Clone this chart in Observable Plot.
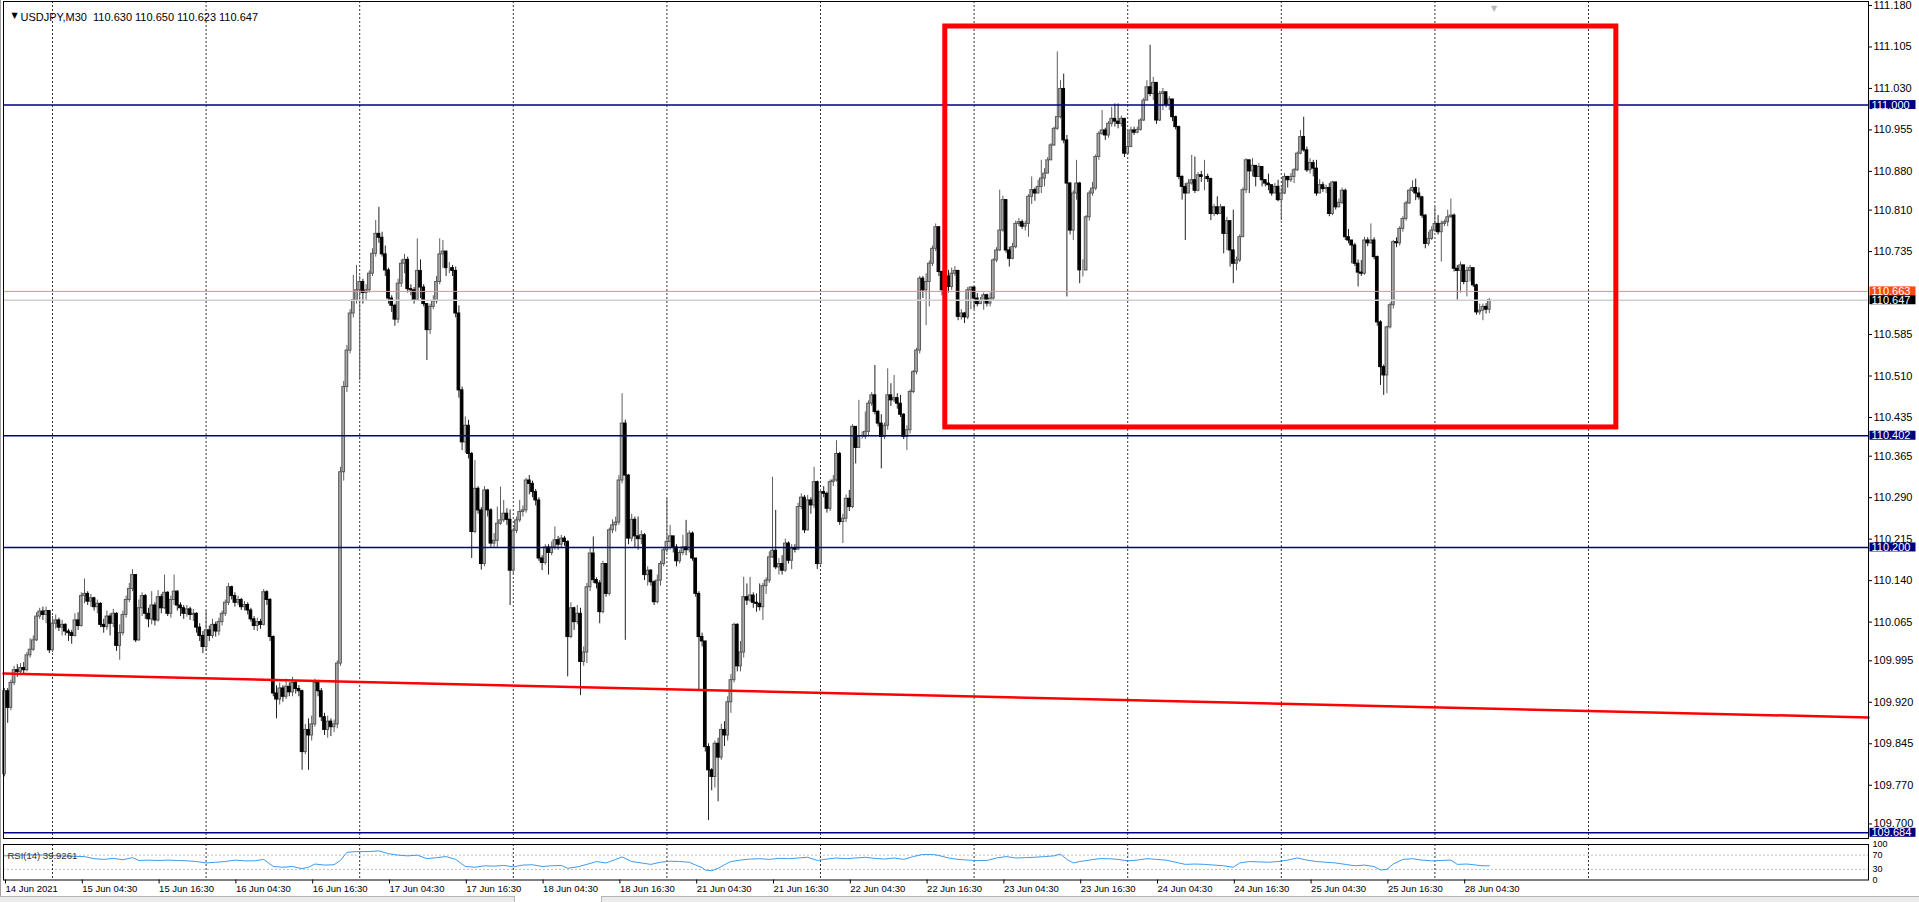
<!DOCTYPE html>
<html><head><meta charset="utf-8">
<script src="https://cdn.jsdelivr.net/npm/d3@7"></script>
<script src="https://cdn.jsdelivr.net/npm/@observablehq/plot@0.6"></script>
<style>
html,body{margin:0;padding:0;background:#fff;width:1919px;height:902px;overflow:hidden;font-family:"Liberation Sans",Arial,sans-serif;}
#wrap{position:relative;width:1919px;height:902px;background:#fff;}
#main{position:absolute;left:0;top:0;}
#rsi{position:absolute;left:0;top:840px;}
#tabs{position:absolute;left:0;top:896px;width:1919px;height:6px;background:#ececec;border-top:1px solid #b5b5b5;}
#tab1{position:absolute;left:514px;top:-1px;width:86px;height:6px;background:#fff;border:1px solid #b5b5b5;border-top:none;}
#edge{position:absolute;left:0;top:0;width:1px;height:896px;background:#a0a0a0;}
svg{overflow:visible;}
</style></head>
<body><div id="wrap"><div id="main"></div><div id="rsi"></div><div id="edge"></div><div id="tabs"><div id="tab1"></div></div></div>
<script>
// USDJPY M30, one candle per 30 minutes, bar 0 = 14 Jun 2021 16:30.
// Prices stored as thousandths above 109.000 (e.g. 1647 = 110.647).
const priceBase = 109;
const firstOpen = 790;
const closes = [
940,910,955,978,975,982,978,1005,1015,1032,
1075,1084,1078,1085,1014,1062,1068,1055,1060,1048,
1045,1040,1068,1058,1112,1116,1102,1108,1092,1098,
1060,1056,1075,1062,1080,1022,1045,1078,1105,1125,
1150,1032,1090,1112,1080,1070,1095,1068,1110,1090,
1118,1080,1105,1120,1095,1090,1080,1088,1078,1080,
1055,1040,1020,1050,1040,1060,1048,1065,1080,1100,
1128,1112,1100,1105,1092,1096,1086,1070,1058,1065,
1060,1119,1105,1038,936,925,945,930,948,938,
955,944,940,830,870,860,880,955,940,893,
870,885,875,880,990,1336,1490,1556,1623,1647,
1665,1680,1660,1665,1695,1731,1767,1760,1730,1701,
1650,1637,1612,1677,1713,1720,1667,1665,1647,1700,
1670,1640,1593,1635,1645,1680,1730,1735,1705,1705,
1700,1623,1484,1390,1420,1369,1228,1306,1267,1170,
1303,1267,1207,1212,1243,1249,1261,1250,1158,1230,
1249,1264,1267,1321,1315,1300,1285,1180,1172,1200,
1190,1200,1213,1205,1216,1210,1038,1090,1065,1080,
993,1010,1128,1189,1141,1135,1083,1170,1116,1231,
1240,1245,1321,1424,1330,1216,1250,1220,1215,1222,
1150,1158,1137,1101,1140,1170,1195,1210,1220,1200,
1175,1190,1200,1195,1225,1180,1116,1038,1030,839,
797,785,845,820,870,860,920,960,1060,985,
1010,1110,1104,1113,1100,1098,1092,1130,1140,1182,
1194,1164,1170,1158,1207,1176,1198,1196,1273,1290,
1231,1285,1276,1318,1170,1300,1297,1270,1318,1321,
1369,1246,1252,1288,1273,1418,1380,1400,1400,1409,
1460,1475,1445,1424,1400,1420,1475,1466,1470,1460,
1440,1400,1412,1481,1517,1556,1686,1665,1680,1713,
1740,1779,1698,1665,1690,1671,1695,1700,1617,1623,
1616,1665,1670,1650,1640,1646,1656,1641,1650,1719,
1737,1773,1828,1737,1722,1743,1785,1788,1780,1785,
1834,1846,1840,1852,1867,1876,1900,1927,1957,1978,
2029,1936,1858,1773,1840,1858,1701,1701,1797,1840,
1849,1906,1948,1954,1945,1966,1975,1970,1966,1975,
1912,1924,1954,1950,1955,1972,2008,2032,2020,2040,
1972,2020,2023,2000,2010,1978,1960,1870,1852,1840,
1858,1864,1845,1873,1870,1870,1866,1803,1815,1803,
1815,1767,1790,1737,1713,1719,1761,1846,1900,1880,
1890,1870,1888,1864,1858,1855,1840,1852,1828,1840,
1870,1864,1870,1882,1912,1942,1918,1882,1895,1885,
1840,1855,1848,1850,1803,1860,1815,1823,1845,1761,
1755,1746,1713,1697,1695,1755,1750,1755,1725,1607,
1526,1511,1598,1638,1752,1750,1776,1794,1822,1845,
1850,1840,1833,1800,1749,1758,1773,1785,1770,1785,
1788,1797,1800,1704,1700,1710,1680,1700,1705,1674,
1625,1628,1635,1630,1647];
const highs = [
945,945,960,985,988,990,992,1010,1035,1040,
1082,1090,1092,1092,1085,1075,1078,1072,1068,1062,
1052,1050,1080,1082,1118,1143,1120,1115,1110,1105,
1100,1070,1085,1080,1088,1082,1060,1085,1112,1135,
1160,1150,1105,1118,1115,1090,1120,1100,1122,1115,
1150,1120,1112,1150,1122,1100,1095,1095,1092,1088,
1082,1062,1048,1085,1058,1070,1065,1072,1085,1105,
1135,1130,1118,1112,1108,1102,1100,1090,1075,1072,
1070,1124,1122,1108,1040,950,955,950,962,955,
965,958,950,942,880,890,895,962,960,945,
900,895,890,888,995,1345,1500,1565,1630,1692,
1710,1690,1685,1675,1700,1740,1791,1815,1770,1745,
1705,1655,1640,1685,1720,1730,1725,1675,1670,1758,
1720,1675,1640,1640,1655,1690,1758,1755,1735,1715,
1710,1707,1637,1490,1436,1430,1372,1357,1310,1272,
1310,1305,1270,1225,1273,1309,1285,1270,1268,1235,
1255,1285,1275,1325,1330,1320,1305,1290,1185,1205,
1205,1210,1237,1220,1222,1220,1212,1100,1092,1095,
1090,1020,1135,1200,1219,1145,1140,1175,1170,1235,
1250,1255,1330,1478,1430,1332,1260,1255,1255,1230,
1225,1165,1160,1140,1150,1175,1200,1288,1240,1215,
1205,1195,1222,1249,1230,1228,1165,1120,1045,1030,
845,800,850,855,880,885,930,970,1063,1062,
1030,1146,1134,1146,1118,1116,1134,1135,1145,1192,
1327,1267,1180,1185,1215,1210,1205,1205,1280,1297,
1294,1294,1290,1345,1320,1305,1310,1300,1322,1330,
1393,1372,1260,1295,1303,1422,1412,1466,1409,1445,
1465,1480,1529,1448,1440,1425,1523,1496,1511,1478,
1475,1442,1420,1485,1520,1560,1690,1690,1695,1718,
1745,1785,1780,1700,1700,1701,1705,1708,1701,1630,
1625,1670,1671,1665,1659,1652,1660,1658,1660,1722,
1742,1846,1835,1800,1743,1750,1790,1795,1792,1790,
1838,1870,1850,1864,1900,1885,1905,1930,1960,2096,
2044,2056,1945,1860,1845,1900,1860,1720,1800,1845,
1860,1910,1952,1990,1958,1970,1996,2002,2002,1980,
1975,1955,1960,1960,1960,1975,2012,2044,2108,2050,
2014,2025,2030,2015,2015,2010,1980,1962,1872,1858,
1865,1909,1906,1878,1880,1900,1875,1868,1820,1834,
1820,1815,1797,1760,1810,1725,1765,1850,1903,1900,
1903,1885,1894,1880,1865,1875,1855,1858,1864,1850,
1876,1870,1876,1885,1915,1954,1978,1924,1903,1900,
1900,1865,1860,1855,1858,1862,1830,1830,1850,1848,
1775,1753,1750,1720,1719,1761,1760,1785,1760,1727,
1610,1530,1600,1642,1755,1760,1780,1798,1826,1848,
1863,1866,1850,1835,1802,1770,1780,1815,1800,1790,
1792,1810,1830,1803,1710,1716,1705,1707,1710,1701,
1676,1640,1640,1641,1650];
const lows = [
785,882,905,950,965,968,970,975,1000,1012,
1030,1070,1068,1062,1008,1010,1052,1048,1040,1040,
1030,1025,1038,1050,1056,1098,1095,1092,1085,1080,
1055,1045,1050,1040,1055,1012,996,1040,1072,1100,
1120,1028,1030,1075,1070,1055,1060,1058,1065,1080,
1088,1075,1072,1095,1085,1075,1070,1074,1068,1066,
1045,1030,1008,1012,1030,1035,1038,1040,1058,1075,
1095,1105,1092,1095,1086,1085,1078,1065,1050,1048,
1052,1058,1095,1030,930,890,915,920,925,930,
930,935,930,797,825,797,850,875,930,885,
860,855,858,865,872,985,1320,1480,1550,1615,
1640,1502,1640,1645,1660,1690,1725,1750,1725,1690,
1640,1625,1600,1605,1670,1695,1660,1655,1640,1645,
1650,1635,1538,1585,1630,1640,1675,1705,1690,1695,
1690,1615,1470,1375,1370,1360,1180,1225,1260,1159,
1165,1255,1200,1200,1198,1240,1245,1240,1095,1150,
1225,1245,1255,1262,1295,1290,1275,1175,1158,1168,
1150,1185,1195,1195,1200,1202,966,1035,1050,1060,
932,985,990,1120,1135,1125,1062,1080,1110,1112,
1225,1228,1240,1315,1032,1205,1210,1200,1195,1205,
1140,1130,1130,1095,1098,1130,1165,1190,1195,1190,
1165,1170,1185,1185,1190,1175,1110,941,1020,830,
706,760,765,740,815,840,850,900,955,975,
975,1000,1095,1100,1090,1083,1085,1068,1115,1135,
1180,1160,1150,1150,1155,1170,1160,1190,1195,1268,
1225,1230,1260,1270,1160,1168,1290,1262,1265,1310,
1318,1240,1207,1245,1265,1270,1351,1384,1396,1395,
1400,1455,1440,1418,1342,1395,1412,1455,1462,1450,
1435,1395,1375,1405,1478,1512,1550,1650,1601,1635,
1708,1735,1690,1655,1670,1660,1665,1690,1610,1611,
1605,1612,1630,1630,1635,1640,1629,1635,1635,1645,
1715,1735,1770,1732,1707,1720,1740,1780,1775,1772,
1761,1820,1826,1840,1840,1852,1876,1900,1925,1954,
1975,1930,1653,1765,1755,1828,1677,1689,1700,1790,
1835,1845,1900,1945,1936,1940,1960,1960,1957,1960,
1905,1910,1925,1945,1948,1953,1970,2008,2015,2008,
1965,1970,1990,1995,1990,1970,1955,1865,1828,1755,
1845,1855,1840,1843,1860,1845,1860,1791,1798,1800,
1803,1731,1737,1707,1677,1700,1715,1761,1840,1840,
1870,1852,1870,1852,1852,1845,1835,1846,1825,1791,
1838,1850,1860,1858,1880,1910,1915,1878,1875,1870,
1835,1840,1842,1840,1798,1800,1810,1815,1820,1755,
1749,1713,1708,1671,1690,1692,1744,1748,1720,1600,
1493,1475,1478,1595,1631,1742,1745,1770,1790,1820,
1842,1827,1828,1795,1740,1745,1755,1770,1765,1716,
1780,1780,1795,1698,1647,1660,1675,1653,1680,1670,
1620,1620,1610,1622,1623];

// RSI(14) (bar index, value)
const rsiBars = [0,5,10,15,20,25,28,31,34,37,40,42,45,48,51,54,57,60,63,66,69,72,75,78,81,84,87,90,93,95,97,100,103,105,107,110,114,117,120,123,126,129,132,135,138,141,144,147,150,153,156,159,162,165,168,171,174,176,179,182,185,188,191,193,196,199,202,205,208,211,214,216,218,219,221,223,225,227,230,233,236,239,242,245,248,251,254,257,260,263,266,269,272,275,278,281,284,287,290,292,295,298,301,304,307,310,313,316,319,322,325,328,330,332,334,336,339,342,345,348,351,354,357,360,363,366,369,372,375,378,381,384,386,389,392,395,398,401,404,407,410,413,416,419,422,425,428,430,432,434,437,440,443,446,449,452,454,457,460,462,464];
const rsiValues = [68,70,71,69,67,66,60,58,61,57,63,55,56,55,56,55,54,52,48,50,52,56,54,54,58,38,36,38,32,36,45,42,43,55,78,80,80,82,74,70,68,70,60,63,66,58,38,36,40,39,41,37,42,43,38,40,41,33,37,44,52,48,58,65,52,48,44,50,53,52,50,42,35,28,26,33,43,52,56,59,60,58,61,60,62,64,55,59,62,60,62,64,61,59,62,58,66,72,72,69,62,58,56,55,55,62,66,62,63,64,66,68,73,58,48,52,56,60,60,58,54,56,60,58,56,50,44,45,44,42,40,36,48,52,51,50,52,56,62,56,52,50,48,44,40,42,38,28,30,45,58,60,56,54,55,56,44,45,42,40,40];
const rsiText = "RSI(14) 39.9261";

// Axes, levels and annotations
const timeLabelBars = [0,24,48,72,96,120,144,168,192,216,240,264,288,312,336,360,384,408,432,456];
const timeLabels = ["14 Jun 2021","15 Jun 04:30","15 Jun 16:30","16 Jun 04:30","16 Jun 16:30","17 Jun 04:30","17 Jun 16:30","18 Jun 04:30","18 Jun 16:30","21 Jun 04:30","21 Jun 16:30","22 Jun 04:30","22 Jun 16:30","23 Jun 04:30","23 Jun 16:30","24 Jun 04:30","24 Jun 16:30","25 Jun 04:30","25 Jun 16:30","28 Jun 04:30"];
const gridBars = [15,63,111,159,207,255,303,351,399,447,495];
const priceTicks = [111.180,111.105,111.030,110.955,110.880,110.810,110.735,110.585,110.510,110.435,110.365,110.290,110.215,110.140,110.065,109.995,109.920,109.845,109.770,109.700];
const levelPrices = [111.000,110.402,110.200,109.684];
const askPrice = 110.663;
const bidPrice = 110.647;
const badgePrices = [111.000,110.402,110.200,109.684,110.663,110.647];
const badgeColors = ["#000080","#000080","#000080","#000080","#ff4a12","#000000"];
const trendBars = [-0.3125, 582.5];
const trendPrices = [109.972, 109.8925];
const boxBars = [294, 503.7];
const boxPrices = [110.417, 111.142];
const headerText = "USDJPY,M30\u00a0\u00a0110.630 110.650 110.623 110.647";
const rsiLevels = [30,70];
const rsiTicks = [0,30,70,100];

// ---- build tables
const candles = closes.map((c, i) => {
  const o = i === 0 ? firstOpen : closes[i - 1];
  const hi = Math.max(highs[i], o, c), lo = Math.min(lows[i], o, c);
  return {i, open: priceBase + o/1000, close: priceBase + c/1000, high: priceBase + hi/1000, low: priceBase + lo/1000, up: c >= o};
});
const upC = candles.filter(d => d.up), dnC = candles.filter(d => !d.up);
const rsiData = rsiBars.map((b, k) => ({bar: b, rsi: rsiValues[k]}));
const trend = trendBars.map((b, k) => ({bar: b, price: trendPrices[k]}));
const box = [{x1: boxBars[0], x2: boxBars[1], y1: boxPrices[0], y2: boxPrices[1]}];
const badges = badgePrices.map((p, k) => ({price: p, label: p.toFixed(3), bg: badgeColors[k]}));
const labelMap = new Map(timeLabelBars.map((b, k) => [b, timeLabels[k]]));

const xDomain = [-0.3125, 582.5];
const font = "Liberation Sans, Arial, sans-serif";
const hw = 0.42;

const main = Plot.plot({
  width: 1919, height: 840,
  marginLeft: 3, marginRight: 51, marginTop: 1, marginBottom: 2,
  x: {domain: xDomain, axis: null},
  y: {domain: [109.6737, 111.1872], axis: null},
  style: {fontFamily: font, fontSize: "11px", background: "transparent", overflow: "visible"},
  marks: [
    Plot.ruleX(gridBars, {x: d => d, stroke: "#000", strokeDasharray: "2,2", strokeOpacity: 0.8}),
    Plot.ruleX(upC, {x: "i", y1: "low", y2: "high", stroke: "#5e5e5e", strokeWidth: 1}),
    Plot.ruleX(dnC, {x: "i", y1: "low", y2: "high", stroke: "#222", strokeWidth: 1}),
    Plot.rect(upC, {x1: d => d.i - hw, x2: d => d.i + hw, y1: "open", y2: "close", fill: "#a9a9a9", stroke: "#585858", strokeWidth: 1, inset: 0}),
    Plot.rect(dnC, {x1: d => d.i - hw, x2: d => d.i + hw, y1: "open", y2: "close", fill: "#000", stroke: "#000", strokeWidth: 1, inset: 0}),
    Plot.ruleY([bidPrice], {stroke: "#cfcfcf", strokeWidth: 1.5}),
    Plot.ruleY([askPrice], {stroke: "#ff8a65", strokeWidth: 1}),
    Plot.ruleY(levelPrices, {stroke: "#000080", strokeWidth: 1.5}),
    Plot.line(trend, {x: "bar", y: "price", stroke: "#ff0000", strokeWidth: 2.5}),
    Plot.rect(box, {x1: "x1", x2: "x2", y1: "y1", y2: "y2", fill: "none", stroke: "#ff0000", strokeWidth: 5, inset: 0}),
    Plot.axisY(priceTicks, {anchor: "right", label: null, tickSize: 3, tickPadding: 2, tickFormat: d => d.toFixed(3), fontSize: 11, fill: "#000"}),
    Plot.frame({stroke: "#000", strokeWidth: 1}),
    Plot.text(badges, {y: "price", text: "label", frameAnchor: "right", dx: 3, textAnchor: "start", fill: "#fff", fontSize: 11}),
    Plot.text([headerText], {frameAnchor: "top-left", dx: 17, dy: 12, textAnchor: "start", fontSize: 11, fill: "#000"}),
    Plot.text(["\u25BC"], {frameAnchor: "top-left", dx: 8, dy: 11, fontSize: 8, fill: "#000", fontFamily: "DejaVu Sans"}),
    Plot.text(["\u25BC"], {x: [465.5], frameAnchor: "top", dy: 4, fontSize: 8, fill: "#b8b8b8", fontFamily: "DejaVu Sans"})
  ]
});
document.getElementById("main").appendChild(main);

// badge backgrounds behind the axis labels of the levels
const bgMap = new Map(badges.map(b => [b.label, b.bg]));
d3.select(main).selectAll("text").each(function() {
  const t = this.textContent;
  if (!bgMap.has(t)) return;
  const bb = this.getBBox();
  const r = document.createElementNS("http://www.w3.org/2000/svg", "rect");
  const tr = this.getAttribute("transform");
  if (tr) r.setAttribute("transform", tr);
  r.setAttribute("x", bb.x - 2);
  r.setAttribute("y", bb.y + 1.5);
  r.setAttribute("width", 46);
  r.setAttribute("height", Math.max(9, bb.height - 3));
  r.setAttribute("fill", bgMap.get(t));
  this.parentNode.insertBefore(r, this);
});

const rsiPlot = Plot.plot({
  width: 1919, height: 56,
  marginLeft: 3, marginRight: 51, marginTop: 4, marginBottom: 16.5,
  x: {domain: xDomain, axis: null},
  y: {domain: [0, 100], axis: null},
  style: {fontFamily: font, fontSize: "9px", background: "transparent", overflow: "visible"},
  marks: [
    Plot.ruleY(rsiLevels, {stroke: "#bdbdbd", strokeDasharray: "2,2"}),
    Plot.ruleX(gridBars, {x: d => d, stroke: "#000", strokeDasharray: "2,2", strokeOpacity: 0.8}),
    Plot.line(rsiData, {x: "bar", y: "rsi", stroke: "#3d9bf0", strokeWidth: 1}),
    Plot.axisY(rsiTicks, {anchor: "right", label: null, tickSize: 0, tickPadding: 4, fontSize: 9, fill: "#000"}),
    Plot.axisX(timeLabelBars, {anchor: "bottom", label: null, tickSize: 4, tickPadding: 1, textAnchor: "start", dx: 1, tickFormat: d => labelMap.get(d), fontSize: 9.5, fill: "#000"}),
    Plot.frame({stroke: "#000", strokeWidth: 1}),
    Plot.text([rsiText], {frameAnchor: "top-left", dx: 4, dy: 8, textAnchor: "start", fontSize: 9.5, fill: "#333"})
  ]
});
document.getElementById("rsi").appendChild(rsiPlot);
</script>
</body></html>
